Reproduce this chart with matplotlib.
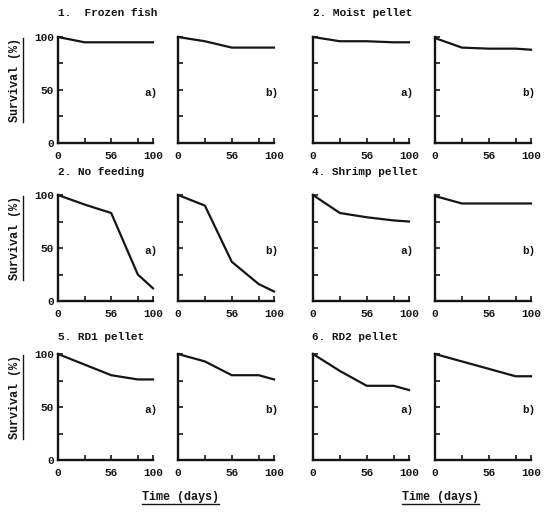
import matplotlib
matplotlib.use("Agg")
import matplotlib.pyplot as plt
from matplotlib.lines import Line2D

plt.rcParams['font.family'] = ['Liberation Mono', 'DejaVu Sans Mono']
plt.rcParams['font.weight'] = 'bold'

days = [0, 28, 56, 84, 100]

titles = ["1.  Frozen fish", "2. Moist pellet", "2. No feeding",
          "4. Shrimp pellet", "5. RD1 pellet", "6. RD2 pellet"]

frozen_a = [100, 95, 95, 95, 95]
frozen_b = [100, 96, 90, 90, 90]
moist_a = [100, 96, 96, 95, 95]
moist_b = [99, 90, 89, 89, 88]
nofeed_a = [100, 91, 83, 25, 12]
nofeed_b = [100, 90, 37, 16, 9]
shrimp_a = [100, 83, 79, 76, 75]
shrimp_b = [99, 92, 92, 92, 92]
rd1_a = [100, 90, 80, 76, 76]
rd1_b = [100, 93, 80, 80, 76]
rd2_a = [100, 84, 70, 70, 66]
rd2_b = [100, 93, 86, 79, 79]

panels = [[frozen_a, frozen_b, moist_a, moist_b],
          [nofeed_a, nofeed_b, shrimp_a, shrimp_b],
          [rd1_a, rd1_b, rd2_a, rd2_b]]

W, H = 550, 522
fig = plt.figure(figsize=(W / 100, H / 100), dpi=100)

cols = [(58, 153), (178, 274), (313, 409), (435, 531)]
rows = [(37, 143), (195, 301), (354, 460)]
ink = '#151515'

for r, (yt, yb) in enumerate(rows):
    for c, (x0, x1) in enumerate(cols):
        ax = fig.add_axes([x0 / W, (H - yb) / H, (x1 - x0) / W, (yb - yt) / H])
        ax.plot(days, panels[r][c], color=ink, lw=1.6, clip_on=False,
                solid_joinstyle='round')
        ax.set_xlim(0, 100)
        ax.set_ylim(0, 100)
        for s in ['top', 'right']:
            ax.spines[s].set_visible(False)
        for s in ['left', 'bottom']:
            ax.spines[s].set_linewidth(1.7)
            ax.spines[s].set_color(ink)
        ax.set_xticks([0, 28, 56, 84, 100])
        ax.set_xticklabels(['0', '', '56', '', '100'])
        ax.set_yticks([0, 25, 50, 75, 100])
        if c == 0:
            ax.set_yticklabels(['0', '', '50', '', '100'])
        else:
            ax.set_yticklabels([])
        ax.tick_params(direction='in', length=3.5, width=1.2, colors=ink,
                       labelsize=8, pad=6)
        ax.tick_params(axis='y', pad=3)
        ax.patch.set_alpha(0)
        ax.text(105, 47, 'a)' if c % 2 == 0 else 'b)', ha='right', va='center',
                fontsize=8, color=ink)

# panel titles
title_pos = [(58, 13), (313, 13), (58, 172), (312, 172), (58, 337), (312, 337)]
for t, (px, py) in zip(titles, title_pos):
    fig.text(px / W, 1 - py / H, t, ha='left', va='center', fontsize=8,
             color=ink)

# underlined axis labels
labels = []
for (yt, yb) in rows:
    yc = (yt + yb) / 2 - 10
    labels.append(fig.text(15 / W, 1 - yc / H, 'Survival (%)', rotation=90,
                           ha='center', va='center', fontsize=8.5, color=ink))
for xc in [180, 440]:
    labels.append(fig.text(xc / W, 1 - 497 / H, 'Time (days)', ha='center',
                           va='center', fontsize=8.5, color=ink))

fig.canvas.draw()
renderer = fig.canvas.get_renderer()
for t in labels:
    bb = t.get_window_extent(renderer)
    if t.get_rotation() == 90:
        x = (bb.x1 + 2) / W
        fig.add_artist(Line2D([x, x], [bb.y0 / H, bb.y1 / H], color=ink, lw=1.0))
    else:
        y = (bb.y0 - 1) / H
        fig.add_artist(Line2D([bb.x0 / W, bb.x1 / W], [y, y], color=ink, lw=1.0))

fig.savefig('out.png', dpi=100)
